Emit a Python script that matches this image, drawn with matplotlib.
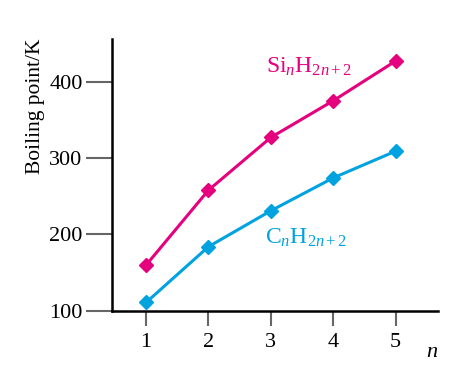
import matplotlib.pyplot as plt

plt.rcParams['font.family'] = 'Liberation Serif'
plt.rcParams['mathtext.fontset'] = 'custom'
plt.rcParams['mathtext.rm'] = 'Liberation Serif'
plt.rcParams['mathtext.it'] = 'Liberation Serif:italic'

n = [1, 2, 3, 4, 5]
silanes = [160, 258, 327, 375, 427]
alkanes = [111, 184, 231, 274, 309]
yticks = [100, 200, 300, 400]

pink = '#E5007D'
cyan = '#00A3E0'

fig = plt.figure(figsize=(4.51, 3.67), dpi=100)
ax = fig.add_axes([0.248, 0.153, 0.723, 0.741])

ax.plot(n, silanes, color=pink, lw=2.2, marker='D', ms=7)
ax.plot(n, alkanes, color=cyan, lw=2.2, marker='D', ms=7)

ax.set_xlim(0.45, 5.68)
ax.set_ylim(100, 456)
ax.set_xticks(n)
ax.set_yticks(yticks)

for s in ['top', 'right']:
    ax.spines[s].set_visible(False)
for s in ['left', 'bottom']:
    ax.spines[s].set_linewidth(1.8)

ax.tick_params(axis='x', direction='out', length=11, width=1.5, color='#666666',
               labelsize=16, pad=5)
ax.tick_params(axis='y', direction='out', length=19, width=1.5, color='#666666',
               labelsize=16, pad=2)

# formula labels next to the curves
ax.text(2.92, 420, r'$\mathrm{Si}_{n}\mathrm{H}_{2n+2}$', color=pink, fontsize=17,
        ha='left', va='center')
ax.text(2.9, 195, r'$\mathrm{C}_{n}\mathrm{H}_{2n+2}$', color=cyan, fontsize=17,
        ha='left', va='center')

fig.text(0.958, 0.04, 'n', fontstyle='italic', fontsize=16, ha='center', va='center')
fig.text(0.078, 0.71, 'Boiling point/K', rotation=90, fontsize=15.5,
         ha='center', va='center')

fig.savefig('out.png', dpi=100)
